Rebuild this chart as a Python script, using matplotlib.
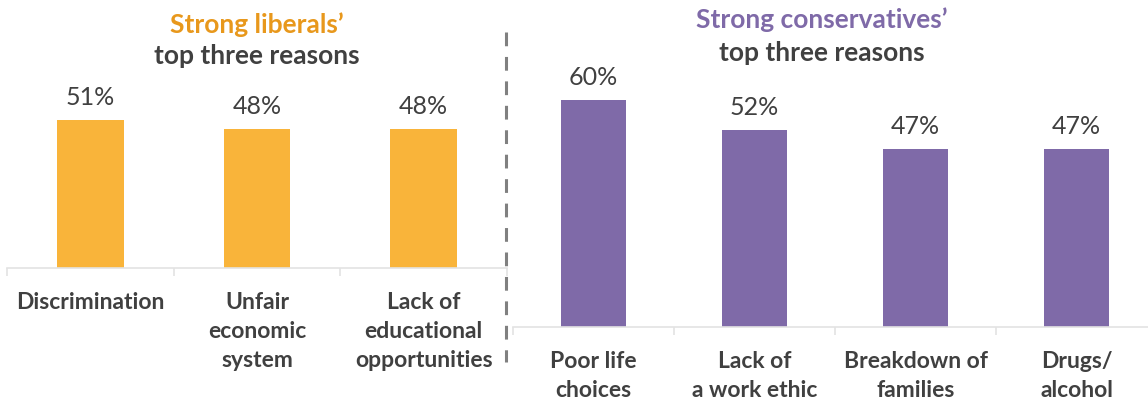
import matplotlib
matplotlib.use('Agg')
import matplotlib.pyplot as plt
from matplotlib.lines import Line2D

plt.rcParams['font.family'] = ['Lato', 'DejaVu Sans']

# data
lib_cats = ['Discrimination', 'Unfair\neconomic\nsystem', 'Lack of\neducational\nopportunities']
lib_vals = [51, 48, 48]
con_cats = ['Poor life\nchoices', 'Lack of\na work ethic', 'Breakdown of\nfamilies', 'Drugs/\nalcohol']
con_vals = [60, 52, 47, 47]

ORANGE = '#F9B43A'
ORANGE_T = '#E8981C'
PURPLE = '#7F6AA8'
DARK = '#404040'
GRID = '#E3E3E3'

W, H = 1148, 400
fig = plt.figure(figsize=(W / 100, H / 100), dpi=100)


def panel(x0, x1, base, pxper, top, cats, vals, color):
    ax = fig.add_axes([x0 / W, 1 - base / H, (x1 - x0) / W, (base - top) / H])
    n = len(vals)
    ax.bar(range(n), vals, width=0.4, color=color, zorder=2)
    ax.set_xlim(-0.5, n - 0.5)
    ax.set_ylim(0, (base - top) / pxper)
    for s in ['top', 'right', 'left']:
        ax.spines[s].set_visible(False)
    ax.spines['bottom'].set_color(GRID)
    ax.spines['bottom'].set_linewidth(1.2)
    ax.set_yticks([])
    ax.set_xticks(range(n))
    ax.set_xticklabels(cats, fontsize=16.5, fontweight='bold', color=DARK, linespacing=1.48)
    ax.tick_params(axis='x', which='major', length=0, pad=17)
    ax.set_xticks([i - 0.5 for i in range(n + 1)], minor=True)
    ax.tick_params(axis='x', which='minor', length=6, color=GRID, width=1.2)
    for i, v in enumerate(vals):
        ax.annotate(f'{v}%', (i, v), xytext=(0, 8), textcoords='offset points',
                    ha='center', va='bottom', fontsize=18, color=DARK)
    return ax


panel(7, 507, 268, 2.9, 90, lib_cats, lib_vals, ORANGE)
panel(513, 1157, 327, 3.785, 70, con_cats, con_vals, PURPLE)

# titles
fig.text(257 / W, 1 - 25 / H, 'Strong liberals\u2019', ha='center', va='center',
         fontsize=19, fontweight='bold', color=ORANGE_T)
fig.text(257 / W, 1 - 56 / H, 'top three reasons', ha='center', va='center',
         fontsize=19, fontweight='bold', color=DARK)
fig.text(822 / W, 1 - 20 / H, 'Strong conservatives\u2019', ha='center', va='center',
         fontsize=19, fontweight='bold', color=PURPLE)
fig.text(822 / W, 1 - 53 / H, 'top three reasons', ha='center', va='center',
         fontsize=19, fontweight='bold', color=DARK)

# dashed divider
fig.add_artist(Line2D([506 / W, 506 / W], [1 - 32 / H, 1 - 362 / H], transform=fig.transFigure,
                      color='#808080', linewidth=2.2, linestyle=(0, (4.5, 3.5))))

fig.savefig('out.png', dpi=100, facecolor='white')
